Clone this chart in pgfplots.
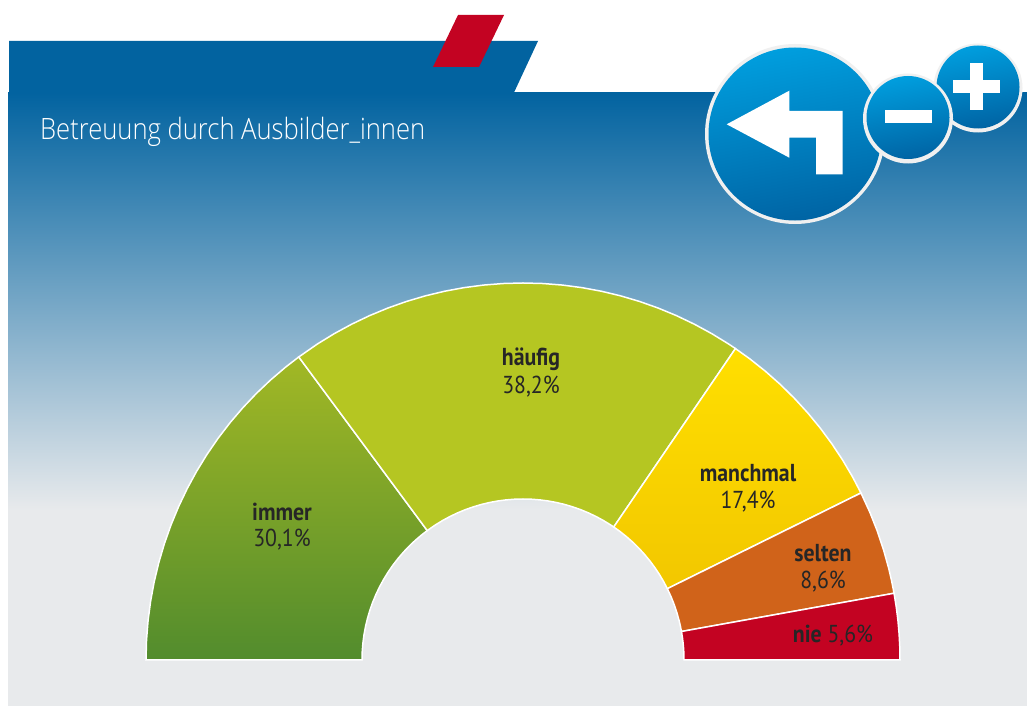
\documentclass[border=0pt]{standalone}
\usepackage{fontspec}
\usepackage{pgfplots}
\pgfplotsset{compat=1.18}
\setmainfont[FakeStretch=0.89,BoldFont={PT Sans Bold}]{PT Sans}
\newfontfamily\titlef[FakeStretch=0.87]{Open Sans Light}
\definecolor{lab}{HTML}{262626}
\definecolor{btop}{HTML}{009EDE}
\definecolor{bbot}{HTML}{0064A4}
\definecolor{band}{HTML}{0263A0}
\definecolor{bggray}{HTML}{E8EAEC}
\definecolor{ring}{HTML}{F0F0F0}
\definecolor{immerT}{HTML}{A2B825}
\definecolor{immerB}{HTML}{528C2D}
\definecolor{haeufig}{HTML}{B5C622}
\definecolor{manT}{HTML}{FFDF00}
\definecolor{manB}{HTML}{F2C700}
\definecolor{selten}{HTML}{D0631A}
\definecolor{nie}{HTML}{C30322}
\pgfplotsset{canvas/.style={x=1pt,y=1pt,scale only axis,axis lines=none,ticks=none,clip=true}}
\begin{document}
\begin{tikzpicture}[x=1pt,y=1pt]
\begin{axis}[canvas,xmin=0,xmax=1027,ymin=0,ymax=706,y dir=reverse,at={(0pt,0pt)},anchor=south west]
\fill[white] (axis cs:0,0) rectangle (axis cs:1027,706);
\fill[bggray] (axis cs:8,509) rectangle (axis cs:1027,706);
\shade[top color=band,bottom color=bggray] (axis cs:8,92.5) rectangle (axis cs:1027,510);
\fill[band] (axis cs:9,41) -- (axis cs:538,41) -- (axis cs:514,92.5) -- (axis cs:9,92.5) -- cycle;
\fill[nie] (axis cs:458,15) -- (axis cs:504,15) -- (axis cs:479,67) -- (axis cs:433,67) -- cycle;
\node[anchor=west,text=white,font=\titlef\fontsize{29.4}{32}\selectfont,inner sep=0pt] at (axis cs:40,132) {Betreuung durch Ausbilder\_innen};
% back button
\fill[ring] (axis cs:795,134) circle[radius=90pt];
\shade[top color=btop,bottom color=bbot,shading angle=10] (axis cs:795,134) circle[radius=86.5pt];
\fill[white] (axis cs:726.7,124.3) -- (axis cs:789.3,90.7) -- (axis cs:789.3,111) -- (axis cs:842.7,111) -- (axis cs:842.7,174.3) -- (axis cs:816,174.3) -- (axis cs:816,137.7) -- (axis cs:789.3,137.7) -- (axis cs:789.3,157.7) -- cycle;
% plus
\fill[ring] (axis cs:978,88) circle[radius=44.5pt];
\shade[top color=btop,bottom color=bbot,shading angle=10] (axis cs:978,87) circle[radius=41.5pt];
\fill[white] (axis cs:952.7,80) rectangle (axis cs:1000,93);
\fill[white] (axis cs:969.7,62.7) rectangle (axis cs:983.3,110);
% minus
\fill[ring] (axis cs:908,118.5) circle[radius=45pt];
\shade[top color=btop,bottom color=bbot,shading angle=10] (axis cs:908,117.5) circle[radius=41.5pt];
\fill[white] (axis cs:885,110) rectangle (axis cs:932,123);
\end{axis}
\begin{axis}[canvas,xmin=-523,xmax=504,ymin=-46,ymax=660,at={(0pt,0pt)},anchor=south west]
% immer 30,1 %
\addplot[draw=white,line width=1.5pt,top color=immerT,bottom color=immerB,data cs=polar] coordinates {
(180,377)(177,377)(174,377)(171,377)(168,377)(165,377)(162,377)(159,377)(156,377)(153,377)(150,377)(147,377)(144,377)(141,377)(138,377)(135,377)(132,377)(129,377)(126.5,377)
(126.5,161)(129,161)(132,161)(135,161)(138,161)(141,161)(144,161)(147,161)(150,161)(153,161)(156,161)(159,161)(162,161)(165,161)(168,161)(171,161)(174,161)(177,161)(180,161)} -- cycle;
% haeufig 38,2 %
\addplot[draw=white,line width=1.5pt,fill=haeufig,data cs=polar] coordinates {
(126.5,377)(123,377)(120,377)(117,377)(114,377)(111,377)(108,377)(105,377)(102,377)(99,377)(96,377)(93,377)(90,377)(87,377)(84,377)(81,377)(78,377)(75,377)(72,377)(69,377)(66,377)(63,377)(60,377)(57,377)(55.7,377)
(55.7,161)(57,161)(60,161)(63,161)(66,161)(69,161)(72,161)(75,161)(78,161)(81,161)(84,161)(87,161)(90,161)(93,161)(96,161)(99,161)(102,161)(105,161)(108,161)(111,161)(114,161)(117,161)(120,161)(123,161)(126.5,161)} -- cycle;
% manchmal 17,4 %
\addplot[draw=white,line width=1.5pt,top color=manT,bottom color=manB,data cs=polar] coordinates {
(55.7,377)(53,377)(50,377)(47,377)(44,377)(41,377)(38,377)(35,377)(32,377)(29,377)(26.3,377)
(26.3,161)(29,161)(32,161)(35,161)(38,161)(41,161)(44,161)(47,161)(50,161)(53,161)(55.7,161)} -- cycle;
% selten 8,6 %
\addplot[draw=white,line width=1.5pt,fill=selten,data cs=polar] coordinates {
(26.3,377)(23,377)(20,377)(17,377)(14,377)(12,377)(10.2,377)
(10.2,161)(12,161)(14,161)(17,161)(20,161)(23,161)(26.3,161)} -- cycle;
% nie 5,6 %
\addplot[draw=white,line width=1.5pt,fill=nie,data cs=polar] coordinates {
(10.2,377)(8,377)(6,377)(4,377)(2,377)(0,377)
(0,161)(2,161)(4,161)(6,161)(8,161)(10.2,161)} -- cycle;
\node[text=lab,inner sep=0pt,font=\fontsize{24.5}{26}\selectfont\bfseries] at (axis cs:8,301) {häufig};
\node[text=lab,inner sep=0pt,font=\fontsize{24.5}{26}\selectfont] at (axis cs:8,273) {38,2\%};
\node[text=lab,inner sep=0pt,font=\fontsize{24.5}{26}\selectfont\bfseries] at (axis cs:225,187) {manchmal};
\node[text=lab,inner sep=0pt,font=\fontsize{24.5}{26}\selectfont] at (axis cs:225,158.5) {17,4\%};
\node[text=lab,inner sep=0pt,font=\fontsize{24.5}{26}\selectfont\bfseries] at (axis cs:300,107) {selten};
\node[text=lab,inner sep=0pt,font=\fontsize{24.5}{26}\selectfont] at (axis cs:300,78.5) {8,6\%};
\node[text=lab,inner sep=0pt,font=\fontsize{24.5}{26}\selectfont] at (axis cs:310,24) {\textbf{nie} 5,6\%};
\node[text=lab,inner sep=0pt,font=\fontsize{24.5}{26}\selectfont\bfseries] at (axis cs:-241,148) {immer};
\node[text=lab,inner sep=0pt,font=\fontsize{24.5}{26}\selectfont] at (axis cs:-241,120.5) {30,1\%};
\end{axis}
\end{tikzpicture}
\end{document}
